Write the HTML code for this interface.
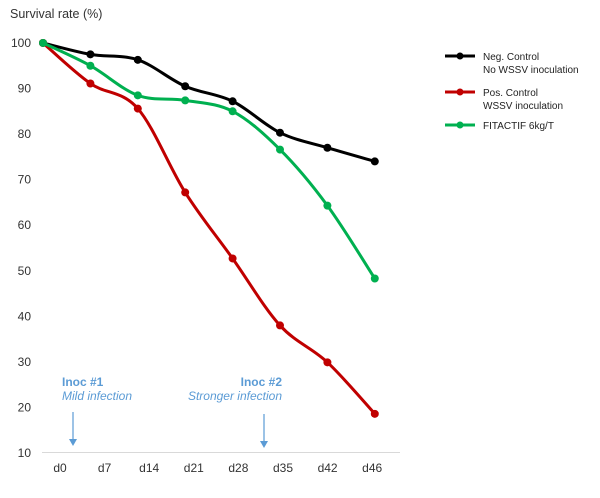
<!DOCTYPE html>
<html><head><meta charset="utf-8"><style>
body{margin:0;background:#fff;font-family:"Liberation Sans",Arial,sans-serif}
svg text{font-family:"Liberation Sans",Arial,sans-serif}
</style></head><body>
<svg id="chart" width="600" height="493" viewBox="0 0 600 493">
<text x="10" y="18" font-size="12.5" fill="#333">Survival  rate (%)</text>
<g id="yt"></g><g id="xt"></g>
<line x1="42" y1="452.5" x2="400" y2="452.5" stroke="#d9d9d9" stroke-width="1"/>
<g id="series"></g>
<g>
<text x="62" y="386" font-size="12" font-weight="bold" fill="#5b9bd5">Inoc #1</text>
<text x="62" y="400" font-size="12" font-style="italic" fill="#5b9bd5">Mild infection</text>
<line x1="73" y1="412" x2="73" y2="440" stroke="#5b9bd5" stroke-width="1.2"/>
<polygon points="69,439 77,439 73,446" fill="#5b9bd5"/>
</g>
<g>
<text x="282" y="386" font-size="12" font-weight="bold" fill="#5b9bd5" text-anchor="end">Inoc #2</text>
<text x="282" y="400" font-size="12" font-style="italic" fill="#5b9bd5" text-anchor="end">Stronger infection</text>
<line x1="264" y1="414" x2="264" y2="442" stroke="#5b9bd5" stroke-width="1.2"/>
<polygon points="260,441 268,441 264,448" fill="#5b9bd5"/>
</g>
<g>
<g>
<line x1="445" y1="56" x2="475" y2="56" stroke="#000" stroke-width="3"/><circle cx="460" cy="56" r="3.5" fill="#000"/>
<text x="483" y="60" font-size="10" fill="#222">Neg. Control</text><text x="483" y="73" font-size="10" fill="#222">No WSSV inoculation</text></g>
<g>
<line x1="445" y1="92" x2="475" y2="92" stroke="#c00000" stroke-width="3"/><circle cx="460" cy="92" r="3.5" fill="#c00000"/>
<text x="483" y="96" font-size="10" fill="#222">Pos. Control</text><text x="483" y="109" font-size="10" fill="#222">WSSV inoculation</text></g>
<g>
<line x1="445" y1="125" x2="475" y2="125" stroke="#00b050" stroke-width="3"/><circle cx="460" cy="125" r="3.5" fill="#00b050"/>
<text x="483" y="129" font-size="10" fill="#222">FITACTIF 6kg/T</text></g>
</g>
</svg>
<script>
const categories=["d0","d7","d14","d21","d28","d35","d42","d46"];
const negControl=[100,97.5,96.3,90.5,87.2,80.3,77,74];
const posControl=[100,91.1,85.6,67.2,52.7,38,29.9,18.6];
const fitactif=[100,95,88.5,87.4,85,76.6,64.3,48.3];
const yTicks=[10,20,30,40,50,60,70,80,90,100];
const NS="http://www.w3.org/2000/svg";
function y(v){return 453-(v-10)*45.56/10;}
function x(i){return 43+i*47.4;}
function lx(i){return 60+i*44.6;}
const yt=document.getElementById('yt'),xt=document.getElementById('xt'),sg=document.getElementById('series');
yTicks.forEach(v=>{const t=document.createElementNS(NS,'text');


t.setAttribute('x',31);t.setAttribute('y',y(v)+4);t.setAttribute('text-anchor','end');t.setAttribute('font-size','12');t.setAttribute('fill','#333');t.textContent=v;yt.appendChild(t);});
categories.forEach((c,i)=>{const t=document.createElementNS(NS,'text');


t.setAttribute('x',lx(i));t.setAttribute('y',472);t.setAttribute('text-anchor','middle');t.setAttribute('font-size','12');t.setAttribute('fill','#333');t.textContent=c;xt.appendChild(t);});
function path(vals){const p=vals.map((v,i)=>[x(i),y(v)]);let d=`M${p[0][0]},${p[0][1]}`;
for(let i=0;i<p.length-1;i++){const p0=p[i-1]||p[i],p1=p[i],p2=p[i+1],p3=p[i+2]||p2;const k=6;
d+=` C${p1[0]+(p2[0]-p0[0])/k},${p1[1]+(p2[1]-p0[1])/k} ${p2[0]-(p3[0]-p1[0])/k},${p2[1]-(p3[1]-p1[1])/k} ${p2[0]},${p2[1]}`;}return d;}
[["neg-control",negControl,"#000"],["pos-control",posControl,"#c00000"],["fitactif",fitactif,"#00b050"]].forEach(([n,vals,col])=>{
const g=document.createElementNS(NS,'g');


const pa=document.createElementNS(NS,'path');


pa.setAttribute('d',path(vals));pa.setAttribute('fill','none');pa.setAttribute('stroke',col);pa.setAttribute('stroke-width','3');g.appendChild(pa);
vals.forEach((v,i)=>{const c=document.createElementNS(NS,'circle');


c.setAttribute('cx',x(i));c.setAttribute('cy',y(v));c.setAttribute('r','4');c.setAttribute('fill',col);g.appendChild(c);});
sg.appendChild(g);});
</script>
</body></html>
